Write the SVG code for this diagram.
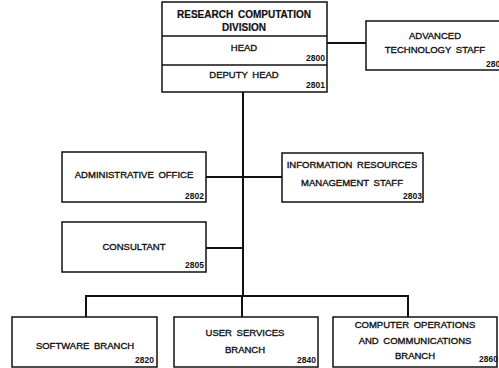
<svg xmlns="http://www.w3.org/2000/svg" width="499" height="368" viewBox="0 0 499 368">
<style>
.box{fill:#fff;stroke:#111;stroke-width:1.5}
.t{font-family:"Liberation Sans",Arial,sans-serif;font-size:9.5px;fill:#111;stroke:#111;stroke-width:0.35;text-anchor:middle;word-spacing:2px}
.b{font-weight:bold;font-size:10px;stroke-width:0.2}
.n{font-family:"Liberation Sans",Arial,sans-serif;font-size:8.5px;fill:#111;text-anchor:end;font-weight:bold}
.c{fill:none;stroke:#111;stroke-width:2}
</style>
<rect width="499" height="368" fill="#fff"/>
<g id="connectors">
<path class="c" d="M327 43H366"/>
<path class="c" d="M243 92V296"/>
<path class="c" d="M206 177H282"/>
<path class="c" d="M206 248H243"/>
<path class="c" d="M86 317V296H408V317"/>
<path class="c" d="M242 296V317"/>
</g>
<g id="rcd">
<rect class="box" x="162" y="2" width="165" height="90"/>
<line x1="162" y1="36" x2="327" y2="36" stroke="#111" stroke-width="1.5"/>
<line x1="162" y1="65" x2="327" y2="65" stroke="#111" stroke-width="1.5"/>
<text class="t b" x="244" y="18">RESEARCH COMPUTATION</text>
<text class="t b" x="244" y="31">DIVISION</text>
<text class="t" x="244" y="51">HEAD</text>
<text class="n" x="325" y="61">2800</text>
<text class="t" x="244" y="78">DEPUTY HEAD</text>
<text class="n" x="325" y="88">2801</text>
</g>
<g id="ats">
<rect class="box" x="366" y="21" width="140" height="49"/>
<text class="t" x="435" y="39">ADVANCED</text>
<text class="t" x="435" y="53">TECHNOLOGY STAFF</text>
<text class="n" x="505" y="67">2804</text>
</g>
<g id="admin">
<rect class="box" x="62" y="152" width="144" height="50"/>
<text class="t" x="134" y="178">ADMINISTRATIVE OFFICE</text>
<text class="n" x="204" y="199">2802</text>
</g>
<g id="irm">
<rect class="box" x="282" y="153" width="141" height="49"/>
<text class="t" x="352" y="168">INFORMATION RESOURCES</text>
<text class="t" x="352" y="186">MANAGEMENT STAFF</text>
<text class="n" x="422" y="199">2803</text>
</g>
<g id="consultant">
<rect class="box" x="62" y="222" width="144" height="50"/>
<text class="t" x="134" y="250">CONSULTANT</text>
<text class="n" x="204" y="268">2805</text>
</g>
<g id="software">
<rect class="box" x="12" y="317" width="145" height="50"/>
<text class="t" x="85" y="349">SOFTWARE BRANCH</text>
<text class="n" x="154" y="363">2820</text>
</g>
<g id="user">
<rect class="box" x="174" y="317" width="144" height="50"/>
<text class="t" x="245" y="336">USER SERVICES</text>
<text class="t" x="245" y="353">BRANCH</text>
<text class="n" x="316" y="363">2840</text>
</g>
<g id="compops">
<rect class="box" x="333" y="317" width="164" height="50"/>
<text class="t" x="415" y="328">COMPUTER OPERATIONS</text>
<text class="t" x="415" y="344">AND COMMUNICATIONS</text>
<text class="t" x="415" y="359">BRANCH</text>
<text class="n" x="498" y="362">2860</text>
</g>
</svg>
